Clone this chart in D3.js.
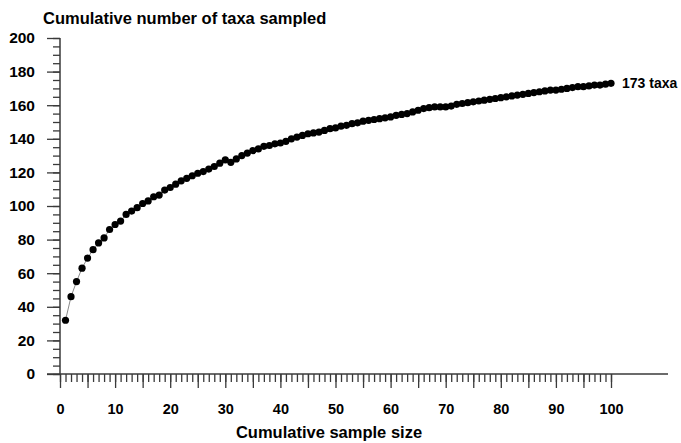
<!DOCTYPE html>
<html>
<head>
<meta charset="utf-8">
<script src="https://cdn.jsdelivr.net/npm/d3@7"></script>
<style>
  body { margin: 0; background: #fff; }
  svg { display: block; font-family: "Liberation Sans", Arial, sans-serif; }
</style>
</head>
<body>
<svg id="chart" width="681" height="443"></svg>
<script>
// cumulative sample size (x) and cumulative number of taxa (y)
let samples = d3.range(1, 101);
let taxa = [
  32, 46, 55, 63, 69, 74, 78, 81, 86, 89,
  91, 95, 97, 99, 101.5, 103, 105.5, 106.5, 109.5, 111,
  113, 115, 116.5, 118, 119.5, 120.5, 122, 123.5, 125.5, 127.5,
  126, 128, 130, 131.5, 133, 134, 135.5, 136, 137, 137.5,
  138.5, 140, 141, 142, 143, 143.5, 144, 145, 146, 146.5,
  147.5, 148, 149, 149.5, 150.5, 151, 151.5, 152, 152.5, 153,
  154, 154.5, 155, 156, 157, 158, 158.5, 159, 159, 159,
  159.5, 160.5, 161, 161.5, 162, 162.5, 163, 163.5, 164, 164.5,
  165, 165.5, 166, 166.5, 167, 167.5, 168, 168.5, 169, 169,
  169.5, 170, 170.5, 171, 171, 171.5, 172, 172, 172.5, 173
];
let yTicks = d3.range(0, 201, 20);
let xTicks = d3.range(0, 101, 10);
let endLabel = "173 taxa";

const svg = d3.select("#chart");
const axisCol = "#3a3a3a";

const x = d3.scaleLinear().domain([0, 100]).range([60, 611]);
const y = d3.scaleLinear().domain([0, 200]).range([374, 38]);

// ---------- y axis ----------
const gy = svg.append("g").attr("transform", "translate(60,0)");
gy.call(d3.axisLeft(y).tickValues(d3.range(0, 201, 5)).tickSize(7).tickFormat(""));
gy.call(g => g.selectAll(".domain").remove());
const gy2 = svg.append("g").attr("transform", "translate(60,0)");
gy2.call(d3.axisLeft(y).tickValues(yTicks).tickSize(13).tickPadding(12));
gy2.select(".domain").remove();
gy2.selectAll("text")
   .style("font-size", "15.5px").style("font-weight", "bold")
   .attr("fill", "#000").attr("font-family", null);
svg.selectAll(".tick line").attr("stroke", axisCol).attr("stroke-width", 1.3);
svg.append("line").attr("x1", 60).attr("x2", 60).attr("y1", y(200)).attr("y2", y(0))
   .attr("stroke", axisCol).attr("stroke-width", 1.5);

// ---------- x axis ----------
const gx = svg.append("g").attr("transform", "translate(0,374)");
gx.call(d3.axisBottom(x).tickValues(d3.range(0, 101, 1)).tickSize(8).tickFormat(""));
gx.select(".domain").remove();
const gx2 = svg.append("g").attr("transform", "translate(0,374)");
gx2.call(d3.axisBottom(x).tickValues(d3.range(0, 101, 5)).tickSize(14)
   .tickFormat(d => xTicks.includes(d) ? d : ""));
gx2.select(".domain").remove();
gx2.selectAll("text").attr("y", 30)
   .style("font-size", "14.5px").style("font-weight", "bold").attr("fill", "#000");
svg.selectAll(".tick line").attr("stroke", axisCol).attr("stroke-width", 1.3);
svg.append("line").attr("x1", 47).attr("x2", 668).attr("y1", 374).attr("y2", 374)
   .attr("stroke", axisCol).attr("stroke-width", 1.5);

// ---------- curve ----------
const pts = samples.map((s, i) => [s, taxa[i]]);
svg.append("path")
   .datum(pts)
   .attr("fill", "none")
   .attr("stroke", "#8a8a8a")
   .attr("stroke-width", 1)
   .attr("d", d3.line().x(d => x(d[0])).y(d => y(d[1])));

svg.selectAll("circle.pt")
   .data(pts)
   .enter()
   .append("circle")
   .attr("class", "pt")
   .attr("cx", d => x(d[0]))
   .attr("cy", d => y(d[1]))
   .attr("r", 3.6)
   .attr("fill", "#000");

// ---------- texts ----------
const last = pts[pts.length - 1];
svg.append("text")
   .attr("x", x(last[0]) + 11).attr("y", y(last[1]) + 5)
   .style("font-size", "14px").style("font-weight", "bold")
   .text(endLabel);

svg.append("text")
   .attr("x", 43).attr("y", 24)
   .style("font-size", "16.5px").style("font-weight", "bold")
   .text("Cumulative number of taxa sampled");

svg.append("text")
   .attr("x", 329).attr("y", 438)
   .attr("text-anchor", "middle")
   .style("font-size", "16.5px").style("font-weight", "bold")
   .text("Cumulative sample size");
</script>
</body>
</html>
